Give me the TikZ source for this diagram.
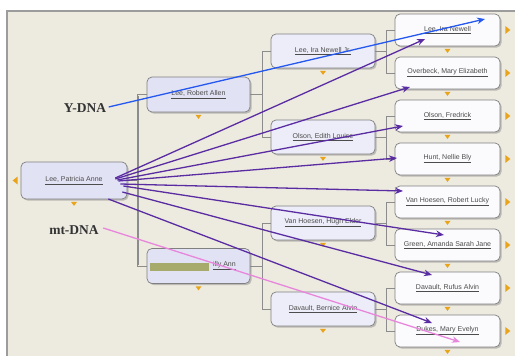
\documentclass[tikz,border=0pt]{standalone}
\usepackage{fontspec}
\setmainfont{Liberation Serif}
\setsansfont{Liberation Sans}
\usetikzlibrary{calc,shadows,arrows.meta}
\definecolor{paper}{HTML}{EDEAE0}
\definecolor{rim}{HTML}{9C9C9C}
\definecolor{boxlav}{HTML}{E2E2F5}
\definecolor{boxpale}{HTML}{EDEDF9}
\definecolor{boxwhite}{HTML}{FBFBFE}
\definecolor{tick}{HTML}{E9A41C}
\definecolor{ylink}{HTML}{2458EE}
\definecolor{mtlink}{HTML}{E886DC}
\definecolor{kin}{HTML}{5A2CA2}
\definecolor{redact}{HTML}{A6AA6A}
\newcommand{\pname}[1]{\underline{#1}}
\tikzset{
  person/.style={draw=black!50,line width=.7pt,rounded corners=5pt,inner sep=0pt,
    drop shadow={shadow xshift=1.6pt,shadow yshift=-1.6pt,opacity=.45},
    font=\sffamily\fontsize{7}{8}\selectfont,text=black!70},
  self/.style={person,fill=boxlav,minimum width=106pt,minimum height=37pt},
  parent/.style={person,fill=boxlav,minimum width=103pt,minimum height=35pt},
  grand/.style={person,fill=boxpale,minimum width=104pt,minimum height=34pt},
  great/.style={person,fill=boxwhite,minimum width=105pt,minimum height=32pt},
  branch/.style={draw=black!45,line width=.6pt},
  marker/.style={fill=tick},
  haplo/.style={font=\bfseries\fontsize{13.5}{15}\selectfont,text=black!80},
  kinline/.style={kin,line width=1.3pt,-{Stealth[length=8pt,width=6.5pt]}},
  yline/.style={ylink,line width=1.3pt,-{Stealth[length=8pt,width=6.5pt]}},
  mtline/.style={mtlink,line width=1.3pt,-{Stealth[length=8pt,width=6.5pt]}}
}

\begin{document}
\begin{tikzpicture}[x=1pt,y=-1pt]
      \useasboundingbox (0,0) rectangle (515,356);
      \fill[white] (0,0) rectangle (515,356);
      \fill[paper] (7,11) rectangle (515,356);
      \draw[rim,line width=1.6pt] (7,356) -- (7,11) -- (515,11);

      \draw[branch] (127,180) -- (137,180);
      \draw[branch] (147,94) -- (137,94) -- (137,266) -- (147,266);
      \draw[branch] (137.8,95.5) -- (137.8,265);
      \draw[branch] (250,94) -- (262,94);
      \draw[branch] (271,51) -- (262,51) -- (262,137) -- (271,137);
      \draw[branch] (250,266) -- (262,266);
      \draw[branch] (271,223) -- (262,223) -- (262,309) -- (271,309);
      \foreach \y in {51,137,223,309} {
        \draw[branch] (375,\y) -- (386,\y);
        \draw[branch] (395,\y-21) -- (386,\y-21) -- (386,\y+22) -- (395,\y+22);
      }

      \node[self] (pat) at (74,180.5) {\pname{Lee, Patricia Anne}};
      \node[parent] (rob) at (198.5,94.5) {\pname{Lee, Robert Allen}};
      \node[parent] (lil) at (198.5,266) {\hspace*{52pt}\pname{illy Ann}};
      \fill[redact] ($(lil.west)+(3,-3.5)$) rectangle ($(lil.west)+(62,4.5)$);
      \node[grand] (ira) at (323,51) {\pname{Lee, Ira Newell Jr.}};
      \node[grand] (edi) at (323,137) {\pname{Olson, Edith Louise}};
      \node[grand] (hug) at (323,223) {\pname{Van Hoesen, Hugh Elder}};
      \node[grand] (ber) at (323,309) {\pname{Davault, Bernice Alvin}};
      \node[great] (ggA) at (447.5,30) {\pname{Lee, Ira Newell}};
      \node[great] (ggB) at (447.5,73) {\pname{Overbeck, Mary Elizabeth}};
      \node[great] (ggC) at (447.5,116) {\pname{Olson, Fredrick}};
      \node[great] (ggD) at (447.5,159) {\pname{Hunt, Nellie Bly}};
      \node[great] (ggE) at (447.5,202) {\pname{Van Hoesen, Robert Lucky}};
      \node[great] (ggF) at (447.5,245) {\pname{Green, Amanda Sarah Jane}};
      \node[great] (ggG) at (447.5,288) {\pname{Davault, Rufus Alvin}};
      \node[great] (ggH) at (447.5,331) {\pname{Dukes, Mary Evelyn}};

      \foreach \n in {pat,rob,lil,ira,edi,hug,ber,ggA,ggB,ggC,ggD,ggE,ggF,ggG,ggH}
        \fill[marker] ($(\n.south)+(-3,2.5)$) -- ++(6,0) -- ++(-3,4) -- cycle;
      \foreach \n in {ggA,ggB,ggC,ggD,ggE,ggF,ggG,ggH}
        \fill[marker] ($(\n.east)+(5,-4)$) -- ++(0,8) -- ++(5,-4) -- cycle;
      \fill[marker] ($(pat.west)+(-3,-4)$) -- ++(0,8) -- ++(-5,-4) -- cycle;

      \node[haplo] (ydna) at (85,108) {Y-DNA};
      \node[haplo] (mtdna) at (74,230) {mt-DNA};

      \draw[kinline] ($(pat.east)+(-12,-2.5)$) -- ($(ggA.center)+(-22.5,9)$);
      \draw[kinline] ($(pat.east)+(-12,-1.5)$) -- ($(ggB.center)+(-37.5,14)$);
      \draw[kinline] ($(pat.east)+(-10,-0.5)$) -- ($(ggC.center)+(-44.5,10)$);
      \draw[kinline] ($(pat.east)+(-9,0.5)$) -- ($(ggD.center)+(-50.5,-1)$);
      \draw[kinline] ($(pat.east)+(-7,3.5)$) -- ($(ggE.center)+(-44.5,-11)$);
      \draw[kinline] ($(pat.east)+(-4,5.5)$) -- ($(ggF.center)+(-3.5,-10)$);
      \draw[kinline] ($(pat.east)+(-5,11.5)$) -- ($(ggG.center)+(-15.5,-13)$);
      \draw[kinline] ($(pat.east)+(-19,18.5)$) -- ($(ggH.center)+(-15.5,-8)$);
      \draw[yline] ($(ydna.east)+(-1,-1)$) -- ($(ggA.center)+(37.5,-11)$);
      \draw[mtline] ($(mtdna.east)+(1,-2)$) -- ($(ggH.center)+(12.5,11)$);
    \end{tikzpicture}
\end{document}
